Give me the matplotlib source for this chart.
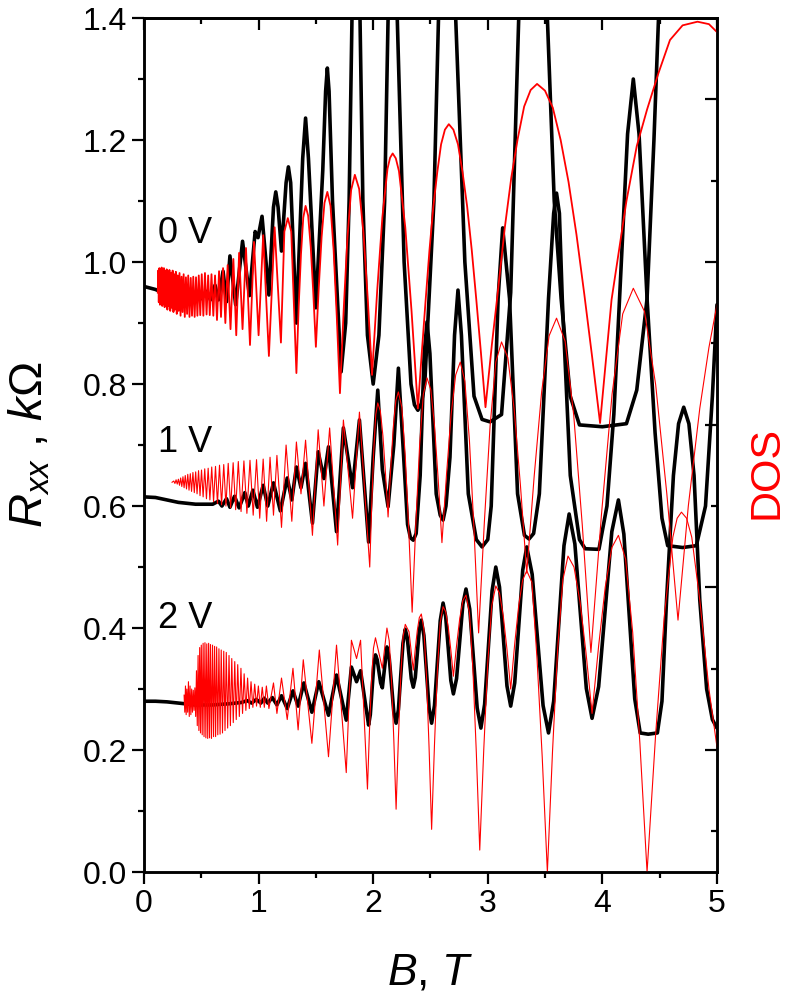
import matplotlib
matplotlib.use('Agg')
import matplotlib.pyplot as plt
from matplotlib.ticker import MultipleLocator, FixedLocator, NullFormatter

plt.rcParams['font.family'] = ['Liberation Sans', 'DejaVu Sans']
plt.rcParams['mathtext.fontset'] = 'custom'
plt.rcParams['mathtext.it'] = 'Liberation Sans:italic'
plt.rcParams['mathtext.rm'] = 'Liberation Sans'

# ---------------- data (B in T, R in kOhm) ----------------
# 0 V, measured (black)
k0_B = [0.00, 0.10, 0.20, 0.35, 0.50, 0.55, 0.58, 0.62, 0.65, 0.69, 0.72, 0.75, 0.80, 0.86, 0.92, 0.97, 0.995, 1.03, 1.09,
        1.13, 1.15, 1.17, 1.20, 1.24, 1.26, 1.28, 1.33, 1.385, 1.41, 1.435, 1.50, 1.56, 1.585, 1.60, 1.615, 1.645, 1.72,
        1.76, 1.79, 1.815, 1.85, 1.885, 1.91, 1.95, 2.00, 2.05, 2.10, 2.13, 2.17, 2.21, 2.27, 2.33, 2.36, 2.39, 2.42,
        2.45, 2.53, 2.57, 2.645, 2.72, 2.80, 2.88, 2.95, 3.02, 3.12, 3.20, 3.27, 3.39, 3.52, 3.58, 3.64, 3.72, 3.80,
        4.00, 4.21, 4.30, 4.39, 4.45, 4.49, 4.70, 5.00]
k0_R = [0.960, 0.955, 0.947, 0.941, 0.940, 0.952, 0.938, 0.962, 0.938, 0.985, 0.935, 1.010, 0.930, 1.034, 0.945, 1.050, 1.040, 1.075, 0.946,
        1.09, 1.115, 1.09, 1.018, 1.13, 1.156, 1.13, 0.900, 1.17, 1.236, 1.17, 0.925, 1.15, 1.28, 1.318, 1.28, 1.10, 0.820,
        0.90, 1.10, 1.40, 1.55, 1.40, 1.10, 0.88, 0.800, 0.88, 1.10, 1.40, 1.60, 1.40, 1.00, 0.80, 0.766, 0.757, 0.768,
        0.80, 1.10, 1.40, 1.70, 1.40, 1.00, 0.78, 0.742, 0.738, 0.75, 0.95, 1.40, 1.80, 1.40, 1.10, 0.94, 0.78, 0.733,
        0.730, 0.735, 0.79, 0.94, 1.20, 1.40, 2.00, 2.00]

# 1 V, measured (black)
k1_B = [0.00, 0.10, 0.20, 0.30, 0.45, 0.60, 0.65, 0.68, 0.72, 0.75, 0.79, 0.83, 0.88, 0.91, 0.95, 0.99, 1.04, 1.08, 1.13,
        1.19, 1.25, 1.29, 1.33, 1.37, 1.41, 1.47, 1.52, 1.57, 1.61, 1.68, 1.74, 1.82, 1.88, 1.96,
        2.00, 2.04, 2.08, 2.13, 2.18, 2.22, 2.26, 2.30, 2.325, 2.35, 2.375, 2.41, 2.445, 2.47, 2.495, 2.55, 2.585, 2.61,
        2.635, 2.67, 2.71, 2.74, 2.77, 2.83, 2.90, 2.95, 3.00, 3.03, 3.09, 3.13, 3.19, 3.26, 3.32, 3.36, 3.40, 3.45,
        3.53, 3.575, 3.60, 3.625, 3.65, 3.72, 3.80, 3.85, 3.97, 4.04, 4.10, 4.15, 4.22, 4.27, 4.32, 4.39, 4.46, 4.52,
        4.57, 4.70, 4.82, 4.90, 4.96, 5.00]
k1_R = [0.615, 0.614, 0.610, 0.606, 0.603, 0.603, 0.608, 0.600, 0.612, 0.598, 0.616, 0.597, 0.622, 0.600, 0.626, 0.598, 0.634, 0.600, 0.638,
        0.592, 0.646, 0.610, 0.664, 0.630, 0.670, 0.572, 0.689, 0.645, 0.697, 0.558, 0.728, 0.630, 0.741, 0.541,
        0.68, 0.790, 0.66, 0.599, 0.70, 0.826, 0.70, 0.57, 0.548, 0.544, 0.555, 0.65, 0.85, 0.902, 0.85, 0.62, 0.585, 0.577,
        0.60, 0.68, 0.88, 0.954, 0.88, 0.62, 0.545, 0.533, 0.545, 0.60, 0.94, 1.056, 0.94, 0.62, 0.552, 0.546, 0.555, 0.62,
        0.94, 1.08, 1.113, 1.08, 0.94, 0.65, 0.545, 0.530, 0.529, 0.60, 0.75, 0.94, 1.21, 1.30, 1.21, 0.94, 0.72, 0.58,
        0.535, 0.532, 0.535, 0.60, 0.78, 0.93]

# 2 V, measured (black)
k2_B = [0.00, 0.10, 0.20, 0.30, 0.45, 0.60, 0.75, 0.85, 0.90, 0.94, 0.98, 1.02, 1.05, 1.08, 1.12, 1.16, 1.20, 1.25, 1.30,
        1.345, 1.395, 1.465, 1.525, 1.61, 1.68, 1.765, 1.81, 1.855, 1.89, 1.925,
        1.96, 1.975, 1.99, 2.005, 2.02, 2.035, 2.05, 2.065, 2.08, 2.10, 2.12, 2.14, 2.16, 2.18, 2.20, 2.22, 2.24, 2.26,
        2.28, 2.2975, 2.315, 2.3325, 2.35, 2.3675, 2.385, 2.4025, 2.42, 2.4425, 2.465, 2.4875, 2.51, 2.535, 2.56, 2.585,
        2.61, 2.6325, 2.655, 2.6775, 2.70, 2.7275, 2.755, 2.7825, 2.81, 2.8425, 2.875, 2.9075, 2.94, 2.9725, 3.005, 3.0375,
        3.07, 3.1025, 3.135, 3.1675, 3.20, 3.235, 3.27, 3.305, 3.34, 3.3875, 3.435, 3.4825, 3.53, 3.575, 3.62, 3.665,
        3.71, 3.76, 3.81, 3.86, 3.91, 3.9675, 4.025, 4.0825, 4.14, 4.1875, 4.235, 4.2825, 4.33, 4.40, 4.48, 4.52,
        4.56, 4.62, 4.665, 4.71, 4.755, 4.80, 4.85, 4.91, 4.96, 5.00]
k2_R = [0.280, 0.280, 0.279, 0.277, 0.274, 0.274, 0.276, 0.278, 0.281, 0.277, 0.283, 0.277, 0.285, 0.277, 0.286, 0.274, 0.289, 0.268, 0.297,
        0.272, 0.310, 0.262, 0.312, 0.257, 0.323, 0.249, 0.336, 0.312, 0.330, 0.285,
        0.241, 0.258, 0.2985, 0.339, 0.356, 0.348, 0.329, 0.310, 0.302, 0.336, 0.369, 0.351, 0.307, 0.262, 0.244, 0.266, 0.321, 0.375,
        0.398, 0.384, 0.351, 0.317, 0.303, 0.319, 0.358, 0.397, 0.413, 0.388, 0.329, 0.269, 0.244, 0.273, 0.343, 0.412,
        0.441, 0.419, 0.367, 0.314, 0.292, 0.317, 0.378, 0.439, 0.464, 0.431, 0.350, 0.269, 0.236, 0.275, 0.368, 0.461,
        0.500, 0.467, 0.386, 0.305, 0.272, 0.310, 0.4025, 0.495, 0.533, 0.488, 0.3805, 0.273, 0.228, 0.280, 0.4075, 0.535,
        0.587, 0.538, 0.4195, 0.301, 0.252, 0.304, 0.431, 0.558, 0.610, 0.554, 0.419, 0.284, 0.228, 0.226, 0.228, 0.28,
        0.446, 0.65, 0.735, 0.762, 0.735, 0.65, 0.446, 0.30, 0.25, 0.236]

# 0 V, DOS (red)
d0_B = [0.120, 0.124, 0.129, 0.134, 0.139, 0.144, 0.149, 0.154, 0.159, 0.164, 0.169, 0.174, 0.180, 0.186, 0.192, 0.198,
        0.204, 0.210, 0.216, 0.222, 0.229, 0.236, 0.243, 0.250, 0.257, 0.264, 0.271, 0.278, 0.286, 0.294, 0.302, 0.310,
        0.319, 0.328, 0.337, 0.346, 0.356, 0.366, 0.376, 0.386, 0.397, 0.408, 0.419, 0.430, 0.442, 0.454, 0.466, 0.478,
        0.491, 0.504, 0.518, 0.532, 0.546, 0.560, 0.574, 0.589, 0.605,
        0.62, 0.637, 0.655, 0.672, 0.69, 0.71, 0.73, 0.755, 0.78, 0.805, 0.83, 0.86, 0.89, 0.925, 0.96, 1.00, 1.04,
        1.09, 1.14, 1.195, 1.225, 1.255, 1.285, 1.33,
        1.35, 1.37, 1.39, 1.41, 1.4325, 1.455, 1.4775, 1.50,
        1.525, 1.55, 1.575, 1.60, 1.6275, 1.655, 1.6825, 1.71,
        1.7425, 1.775, 1.8075, 1.84, 1.8775, 1.915, 1.9525, 1.99,
        2.035, 2.08, 2.125, 2.1475, 2.17, 2.1975, 2.225, 2.28, 2.335, 2.39,
        2.424, 2.4575, 2.491, 2.525, 2.559, 2.5925, 2.626, 2.66, 2.70, 2.74, 2.78, 2.82, 2.86, 2.90, 2.94, 2.98,
        3.036, 3.08, 3.149, 3.205, 3.261, 3.3175, 3.374, 3.43, 3.499, 3.5675, 3.636, 3.705, 3.774, 3.8425, 3.911, 3.98,
        4.08, 4.21, 4.30, 4.39, 4.49, 4.59, 4.70, 4.83, 4.93, 5.00]
d0_R = [0.950, 0.986, 0.934, 0.990, 0.930, 0.988, 0.935, 0.991, 0.928, 0.986, 0.932, 0.990, 0.926, 0.985, 0.930, 0.988,
        0.922, 0.984, 0.928, 0.987, 0.920, 0.982, 0.925, 0.986, 0.918, 0.980, 0.922, 0.984, 0.915, 0.978, 0.920, 0.982,
        0.912, 0.976, 0.918, 0.980, 0.910, 0.975, 0.915, 0.978, 0.910, 0.974, 0.912, 0.976, 0.910, 0.975, 0.912, 0.978,
        0.913, 0.980, 0.912, 0.982, 0.914, 0.978, 0.913, 0.980, 0.912,
        0.978, 0.905, 0.985, 0.910, 0.990, 0.900, 0.995, 0.890, 1.005, 0.880, 1.015, 0.890, 1.023, 0.864, 1.033, 0.880, 1.044,
        0.846, 1.057, 0.868, 1.050, 1.072, 1.050, 0.818,
        0.928, 1.013, 1.073, 1.092, 1.076, 1.025, 0.949, 0.861,
        0.958, 1.041, 1.097, 1.115, 1.092, 1.019, 0.910, 0.785,
        0.921, 1.039, 1.118, 1.143, 1.120, 1.048, 0.940, 0.815,
        0.953, 1.073, 1.153, 1.171, 1.178, 1.170, 1.149, 1.057, 0.919, 0.760,
        0.851, 0.937, 1.019, 1.091, 1.147, 1.193, 1.217, 1.226, 1.217, 1.193, 1.147, 1.091, 1.020, 0.938, 0.852, 0.762,
        0.865, 0.938, 1.057, 1.138, 1.202, 1.255, 1.282, 1.292, 1.281, 1.253, 1.200, 1.131, 1.045, 0.947, 0.844, 0.736,
        0.938, 1.100, 1.190, 1.250, 1.310, 1.364, 1.388, 1.394, 1.390, 1.377]

# 1 V, DOS (red)
d1_B = [0.245, 0.26, 0.27, 0.28, 0.29, 0.30, 0.31, 0.32, 0.33, 0.34, 0.35, 0.36, 0.371, 0.382, 0.393, 0.404, 0.415,
        0.427, 0.439, 0.451, 0.463, 0.476, 0.489, 0.502, 0.516, 0.530, 0.545, 0.560, 0.575, 0.591, 0.607, 0.624, 0.641,
        0.659, 0.677, 0.696, 0.715, 0.735, 0.756, 0.778, 0.800, 0.823, 0.847, 0.872, 0.898, 0.925, 0.953, 0.982, 1.010,
        1.04, 1.07, 1.10, 1.13, 1.16, 1.20, 1.24, 1.29, 1.33, 1.37, 1.41, 1.47, 1.52, 1.57, 1.62, 1.69, 1.74, 1.82,
        1.88, 1.97,
        1.9875, 2.005, 2.0225, 2.04, 2.0625, 2.085, 2.1075, 2.13,
        2.1525, 2.175, 2.1975, 2.22, 2.25, 2.28, 2.31, 2.34,
        2.3725, 2.405, 2.4375, 2.47, 2.5025, 2.535, 2.5675, 2.60,
        2.64, 2.68, 2.72, 2.76, 2.80, 2.84, 2.88, 2.92,
        2.97, 3.02, 3.07, 3.12, 3.175, 3.23, 3.285, 3.34,
        3.405, 3.47, 3.535, 3.60, 3.675, 3.75, 3.825, 3.90,
        3.9925, 4.085, 4.1775, 4.27, 4.3675, 4.465, 4.5625, 4.66,
        4.75, 4.85, 4.93, 5.00]
d1_R = [0.639, 0.641, 0.637, 0.643, 0.636, 0.644, 0.634, 0.646, 0.632, 0.648, 0.630, 0.650, 0.628, 0.652, 0.626, 0.653, 0.624,
        0.655, 0.622, 0.656, 0.620, 0.658, 0.617, 0.659, 0.615, 0.661, 0.612, 0.662, 0.610, 0.664, 0.607, 0.665, 0.604,
        0.667, 0.602, 0.668, 0.600, 0.670, 0.597, 0.671, 0.594, 0.673, 0.591, 0.674, 0.588, 0.675, 0.585, 0.676, 0.580,
        0.677, 0.575, 0.680, 0.585, 0.683, 0.565, 0.700, 0.575, 0.705, 0.620, 0.708, 0.552, 0.725, 0.600, 0.728, 0.536, 0.741, 0.580,
        0.754, 0.500,
        0.602, 0.691, 0.750, 0.769, 0.756, 0.715, 0.653, 0.582,
        0.660, 0.728, 0.773, 0.787, 0.762, 0.682, 0.563, 0.426,
        0.572, 0.699, 0.783, 0.810, 0.791, 0.732, 0.643, 0.540,
        0.652, 0.750, 0.815, 0.836, 0.805, 0.707, 0.561, 0.392,
        0.573, 0.731, 0.836, 0.869, 0.843, 0.759, 0.634, 0.490,
        0.649, 0.787, 0.879, 0.908, 0.870, 0.749, 0.568, 0.360,
        0.587, 0.784, 0.915, 0.957, 0.919, 0.799, 0.620, 0.413,
        0.600, 0.760, 0.860, 0.930]

# 2 V, DOS (red)
d2_B = [0.350, 0.356, 0.362, 0.368, 0.374, 0.381, 0.388, 0.395, 0.402, 0.409, 0.416, 0.423, 0.430, 0.437, 0.444, 0.451,
        0.458, 0.465, 0.472, 0.479, 0.486, 0.493, 0.500, 0.508, 0.516, 0.524, 0.532, 0.540, 0.548, 0.556, 0.564, 0.572,
        0.580, 0.589, 0.598, 0.607, 0.616, 0.625, 0.634, 0.644, 0.654, 0.664, 0.674, 0.685, 0.696, 0.707, 0.718, 0.730,
        0.742, 0.754, 0.766, 0.779, 0.792, 0.805, 0.818, 0.832, 0.846, 0.860, 0.874, 0.889, 0.904, 0.919, 0.934, 0.950,
        0.966, 0.982, 0.998, 1.015, 1.032, 1.050,
        1.068, 1.09, 1.13, 1.16, 1.20, 1.25, 1.30, 1.345, 1.39, 1.465, 1.53, 1.61, 1.68, 1.765, 1.81, 1.855, 1.89, 1.95,
        1.9675, 1.985, 2.0025, 2.02, 2.08, 2.12, 2.14, 2.16, 2.18, 2.20,
        2.22, 2.24, 2.26, 2.28, 2.3125, 2.35, 2.3675, 2.385, 2.4025, 2.42, 2.4425, 2.465, 2.4875, 2.51,
        2.535, 2.56, 2.585, 2.61, 2.6325, 2.655, 2.6775, 2.70,
        2.7275, 2.755, 2.7825, 2.81, 2.84, 2.87, 2.90, 2.93,
        2.965, 3.00, 3.035, 3.07, 3.1025, 3.135, 3.1675, 3.20,
        3.235, 3.27, 3.305, 3.34, 3.385, 3.43, 3.475, 3.52,
        3.565, 3.61, 3.655, 3.70, 3.7525, 3.805, 3.8575, 3.91,
        3.9675, 4.025, 4.0825, 4.14, 4.2025, 4.265, 4.3275, 4.39,
        4.465, 4.54, 4.615, 4.6525, 4.69, 4.735, 4.78, 4.85, 4.93, 5.00]
d2_R = [0.290, 0.262, 0.305, 0.258, 0.300, 0.262, 0.312, 0.255, 0.305, 0.258, 0.300, 0.262, 0.298, 0.265, 0.302, 0.255,
        0.330, 0.240, 0.355, 0.232, 0.368, 0.228, 0.372, 0.225, 0.375, 0.222, 0.376, 0.220, 0.374, 0.219, 0.375, 0.220,
        0.373, 0.219, 0.372, 0.222, 0.370, 0.222, 0.369, 0.225, 0.366, 0.226, 0.364, 0.228, 0.362, 0.232, 0.360, 0.236,
        0.355, 0.240, 0.350, 0.245, 0.345, 0.250, 0.340, 0.255, 0.334, 0.260, 0.325, 0.265, 0.318, 0.268, 0.312, 0.270,
        0.308, 0.272, 0.305, 0.270, 0.303, 0.270,
        0.305, 0.268, 0.310, 0.260, 0.318, 0.250, 0.334, 0.233, 0.348, 0.211, 0.364, 0.189, 0.372, 0.163, 0.380, 0.350, 0.380, 0.136,
        0.231, 0.312, 0.367, 0.384, 0.334, 0.400, 0.379, 0.314, 0.217, 0.103,
        0.219, 0.318, 0.385, 0.406, 0.394, 0.331, 0.366, 0.396, 0.417, 0.423, 0.398, 0.321, 0.205, 0.070,
        0.209, 0.329, 0.409, 0.435, 0.427, 0.402, 0.364, 0.321,
        0.371, 0.415, 0.445, 0.454, 0.425, 0.333, 0.196, 0.036,
        0.201, 0.343, 0.437, 0.469, 0.457, 0.420, 0.365, 0.300,
        0.374, 0.437, 0.479, 0.494, 0.475, 0.349, 0.189, 0.000,
        0.198, 0.366, 0.479, 0.518, 0.500, 0.443, 0.359, 0.260,
        0.371, 0.467, 0.532, 0.552, 0.513, 0.392, 0.211, 0.000,
        0.226, 0.419, 0.549, 0.580, 0.590, 0.580, 0.549, 0.446, 0.300, 0.205]

x_ticks = [0, 1, 2, 3, 4, 5]
y_ticks = [0.0, 0.2, 0.4, 0.6, 0.8, 1.0, 1.2, 1.4]
curve_labels = ['0 V', '1 V', '2 V']
label_pos_B = [0.12, 0.12, 0.12]
label_pos_R = [1.031, 0.689, 0.400]

# ---------------- figure ----------------
fig = plt.figure(figsize=(7.89, 10.02), dpi=100)
ax = fig.add_axes([0.1825, 0.1297, 0.7262, 0.8523])

black_lw = 2.6
for B, R in [(k0_B, k0_R), (k1_B, k1_R), (k2_B, k2_R)]:
    ax.plot(B, R, color='black', lw=black_lw, solid_joinstyle='round', solid_capstyle='round', zorder=2)
ax.plot(d0_B, d0_R, color='#ff0000', lw=1.3, solid_joinstyle='round', zorder=3)
ax.plot(d1_B, d1_R, color='#ff0000', lw=0.8, solid_joinstyle='round', zorder=3)
ax.plot(d2_B, d2_R, color='#ff0000', lw=0.8, solid_joinstyle='round', zorder=3)

ax.set_xlim(0, 5)
ax.set_ylim(0, 1.4)
ax.xaxis.set_major_locator(FixedLocator(x_ticks))
ax.xaxis.set_minor_locator(MultipleLocator(0.5))
ax.yaxis.set_major_locator(FixedLocator(y_ticks))
ax.yaxis.set_minor_locator(MultipleLocator(0.1))
ax.set_xticklabels([str(v) for v in x_ticks])
ax.set_yticklabels(['%.1f' % v for v in y_ticks])

for s in ax.spines.values():
    s.set_linewidth(1.8)

ax.tick_params(axis='both', which='major', direction='out', length=8.5, width=1.6, labelsize=23, pad=4)
ax.tick_params(axis='both', which='minor', direction='out', length=4.5, width=1.6)

# top ticks (inward)
top = ax.secondary_xaxis('top')
top.xaxis.set_major_locator(FixedLocator(x_ticks))
top.xaxis.set_minor_locator(MultipleLocator(0.5))
top.xaxis.set_major_formatter(NullFormatter())
top.tick_params(which='major', direction='in', length=8.5, width=1.6)
top.tick_params(which='minor', direction='in', length=4.5, width=1.6)
top.spines['top'].set_linewidth(1.8)

# right axis (DOS, arbitrary units, inward ticks, no labels)
ax2 = ax.twinx()
ax2.set_ylim(-0.5, 10)
ax2.yaxis.set_major_locator(FixedLocator([1, 3, 5, 7, 9]))
ax2.yaxis.set_minor_locator(FixedLocator([0, 2, 4, 6, 8]))
ax2.yaxis.set_major_formatter(NullFormatter())
ax2.tick_params(which='major', direction='in', length=8.5, width=1.6)
ax2.tick_params(which='minor', direction='in', length=4.5, width=1.6)
for s in ax2.spines.values():
    s.set_linewidth(1.8)

for t, b, r in zip(curve_labels, label_pos_B, label_pos_R):
    ax.text(b, r, t, fontsize=26, ha='left', va='baseline', zorder=5)

ax.text(-0.2, 0.5, r'$R_{xx}$ , $k\Omega$', transform=ax.transAxes, rotation=90,
        fontsize=34, ha='center', va='center')
ax.text(0.5, -0.118, r'$B$, $T$', transform=ax.transAxes, fontsize=32, ha='center', va='center')
ax.text(1.086, 0.468, 'DOS', transform=ax.transAxes, rotation=90, fontsize=31, color='#ff0000',
        ha='center', va='center')

fig.savefig('out.png', dpi=100)
